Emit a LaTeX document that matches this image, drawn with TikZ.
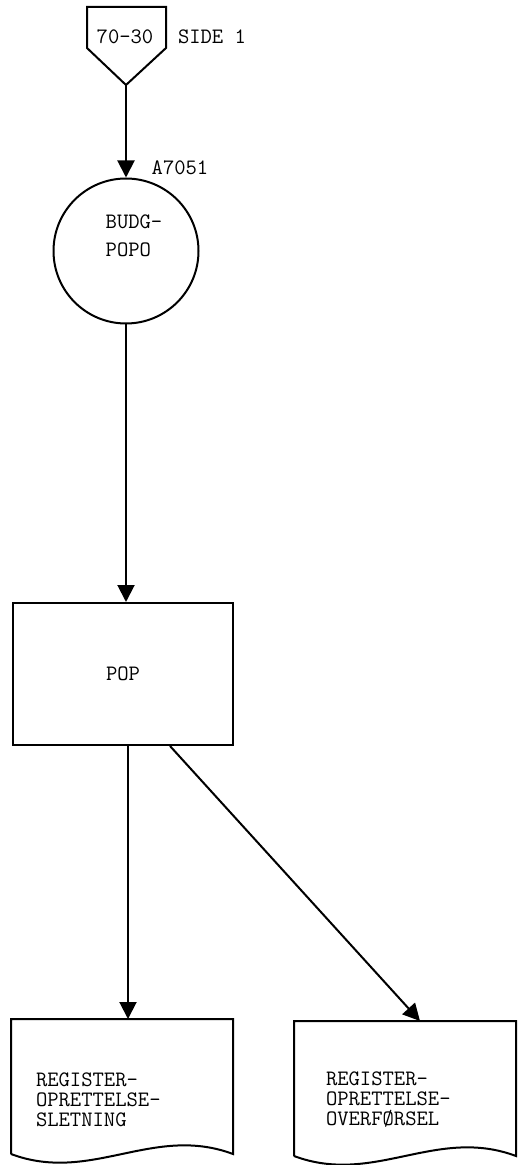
\documentclass[tikz,border=0pt]{standalone}
\usepackage{fontspec}
\usetikzlibrary{arrows.meta}

\begin{document}
\begin{tikzpicture}[x=0.5pt, y=-0.5pt, line width=1pt,
    every node/.style={font=\ttfamily\fontsize{11}{10}\selectfont},
    txt/.style={align=left, inner sep=0pt},
    doc/.style={minimum width=110pt, minimum height=66.5pt},
    >={Triangle[length=8.5pt, width=8.5pt]}]
    \useasboundingbox (0,0) rectangle (521,1165);

    % Off-page connector
    \coordinate (ctip) at (126,85);
    \draw (87,7) -- (166,7) -- (166,48) -- (ctip) -- (87,48) -- cycle;
    \node (conn) at (125,37) {70-30};
    \node[txt, anchor=west] (side) at (177,37) {SIDE 1};

    % Program circle
    \node[draw, circle, minimum size=72.5pt, inner sep=0pt] (budg) at (126,251) {};
    \node[txt] (budgtxt) at (134,236) {BUDG-\\[4pt]POPO};
    \node[txt] (prog) at (180,168) {A7051};

    % Process box
    \node[draw, minimum width=110pt, minimum height=71pt] (pop) at (123,674) {POP};

    % Documents
    \node[doc] (sletning) at (122,1086.5) {};
    \node[doc] (overforsel) at (405,1088.5) {};
    \foreach \d in {sletning, overforsel}
        \draw (\d.south west) -- (\d.north west) -- (\d.north east) -- (\d.south east)
            .. controls +(-80,-30) and +(80,30) .. (\d.south west);
    \node[txt, anchor=west] (sletningtxt) at (35,1100) {REGISTER-\\OPRETTELSE-\\SLETNING};
    \node[txt, anchor=west] (overforseltxt) at (325,1100) {REGISTER-\\OPRETTELSE-\\OVERFØRSEL};

    % Flow lines
    \draw[->] (ctip) -- (budg);
    \draw[->] (budg.south) -- (budg.south |- pop.north);
    \draw[->] ([xshift=2.5pt]pop.south) -- ([xshift=2.5pt]pop.south |- sletning.north);
    \draw[->] ([xshift=23.5pt]pop.south) -- ([xshift=7.5pt]overforsel.north);
\end{tikzpicture}
\end{document}
